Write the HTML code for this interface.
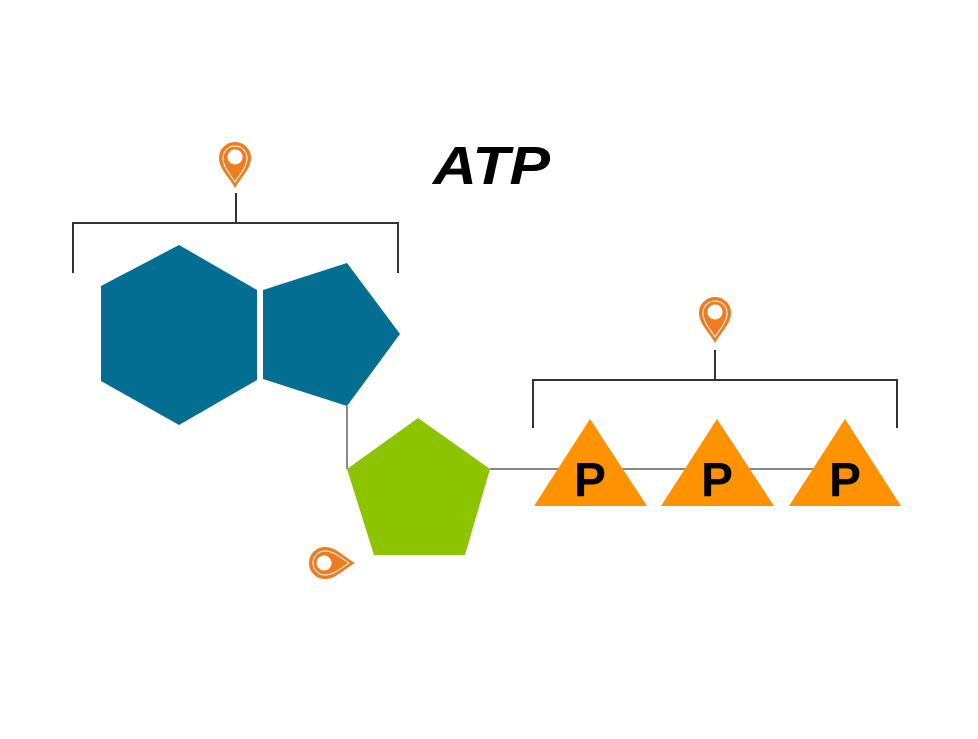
<!DOCTYPE html>
<html><head><style>body{margin:0;background:#fff}</style></head><body>
<svg width="978" height="734" viewBox="0 0 978 734" xmlns="http://www.w3.org/2000/svg">
<rect width="978" height="734" fill="#fff"/>
<text x="433" y="184" font-family="Liberation Sans, sans-serif" font-weight="bold" font-style="italic" font-size="54" textLength="117" lengthAdjust="spacingAndGlyphs" fill="#000">ATP</text>
<g stroke="#333" stroke-width="2" fill="none">
<path d="M73 273V223H398V273M236 223V193"/>
<path d="M533 428V380H897V428M715 380V350"/>
</g>
<g stroke="#888" stroke-width="2">
<path d="M347 406V469"/>
<path d="M490 469H840"/>
</g>
<polygon points="179,245 257,290 257,380 179,425 101,381 101,286" fill="#036E91"/>
<polygon points="263,290 347,263 400,334 347,406 263,379" fill="#036E91"/>
<polygon points="418,418 490,469 465,555 374,555 347,469" fill="#8DC400"/>
<g fill="#FF9200">
<polygon points="590,419 647,506 534,506"/>
<polygon points="717,419 774,506 661,506"/>
<polygon points="845,419 901,506 789,506"/>
</g>
<g font-family="Liberation Sans, sans-serif" font-weight="bold" font-size="48" fill="#000" text-anchor="middle">
<text x="590" y="496">P</text><text x="717" y="496">P</text><text x="845" y="496">P</text>
</g>
<g>
<path d="M235 186C229 176 220 168 220 158A15 15 0 0 1 250 158C250 168 241 176 235 186Z" fill="#F07C22" stroke="#F07C22" stroke-width="2"/>
<path d="M235 182C230 174 223 167 223 158A12 12 0 0 1 247 158C247 167 240 174 235 182Z" fill="none" stroke="#fff" stroke-width="1"/>
<circle cx="235" cy="157" r="7.5" fill="#fff"/>
</g>
<g transform="translate(480 155)">
<path d="M235 186C229 176 220 168 220 158A15 15 0 0 1 250 158C250 168 241 176 235 186Z" fill="#F07C22" stroke="#F07C22" stroke-width="2"/>
<path d="M235 182C230 174 223 167 223 158A12 12 0 0 1 247 158C247 167 240 174 235 182Z" fill="none" stroke="#fff" stroke-width="1"/>
<circle cx="235" cy="157" r="7.5" fill="#fff"/>
</g>
<g transform="translate(-6 0) rotate(-90 330 563) translate(95 406)">
<path d="M235 186C229 176 220 168 220 158A15 15 0 0 1 250 158C250 168 241 176 235 186Z" fill="#F07C22" stroke="#F07C22" stroke-width="2"/>
<path d="M235 182C230 174 223 167 223 158A12 12 0 0 1 247 158C247 167 240 174 235 182Z" fill="none" stroke="#fff" stroke-width="1"/>
<circle cx="235" cy="157" r="7.5" fill="#fff"/>
</g>
</svg>
</body></html>
